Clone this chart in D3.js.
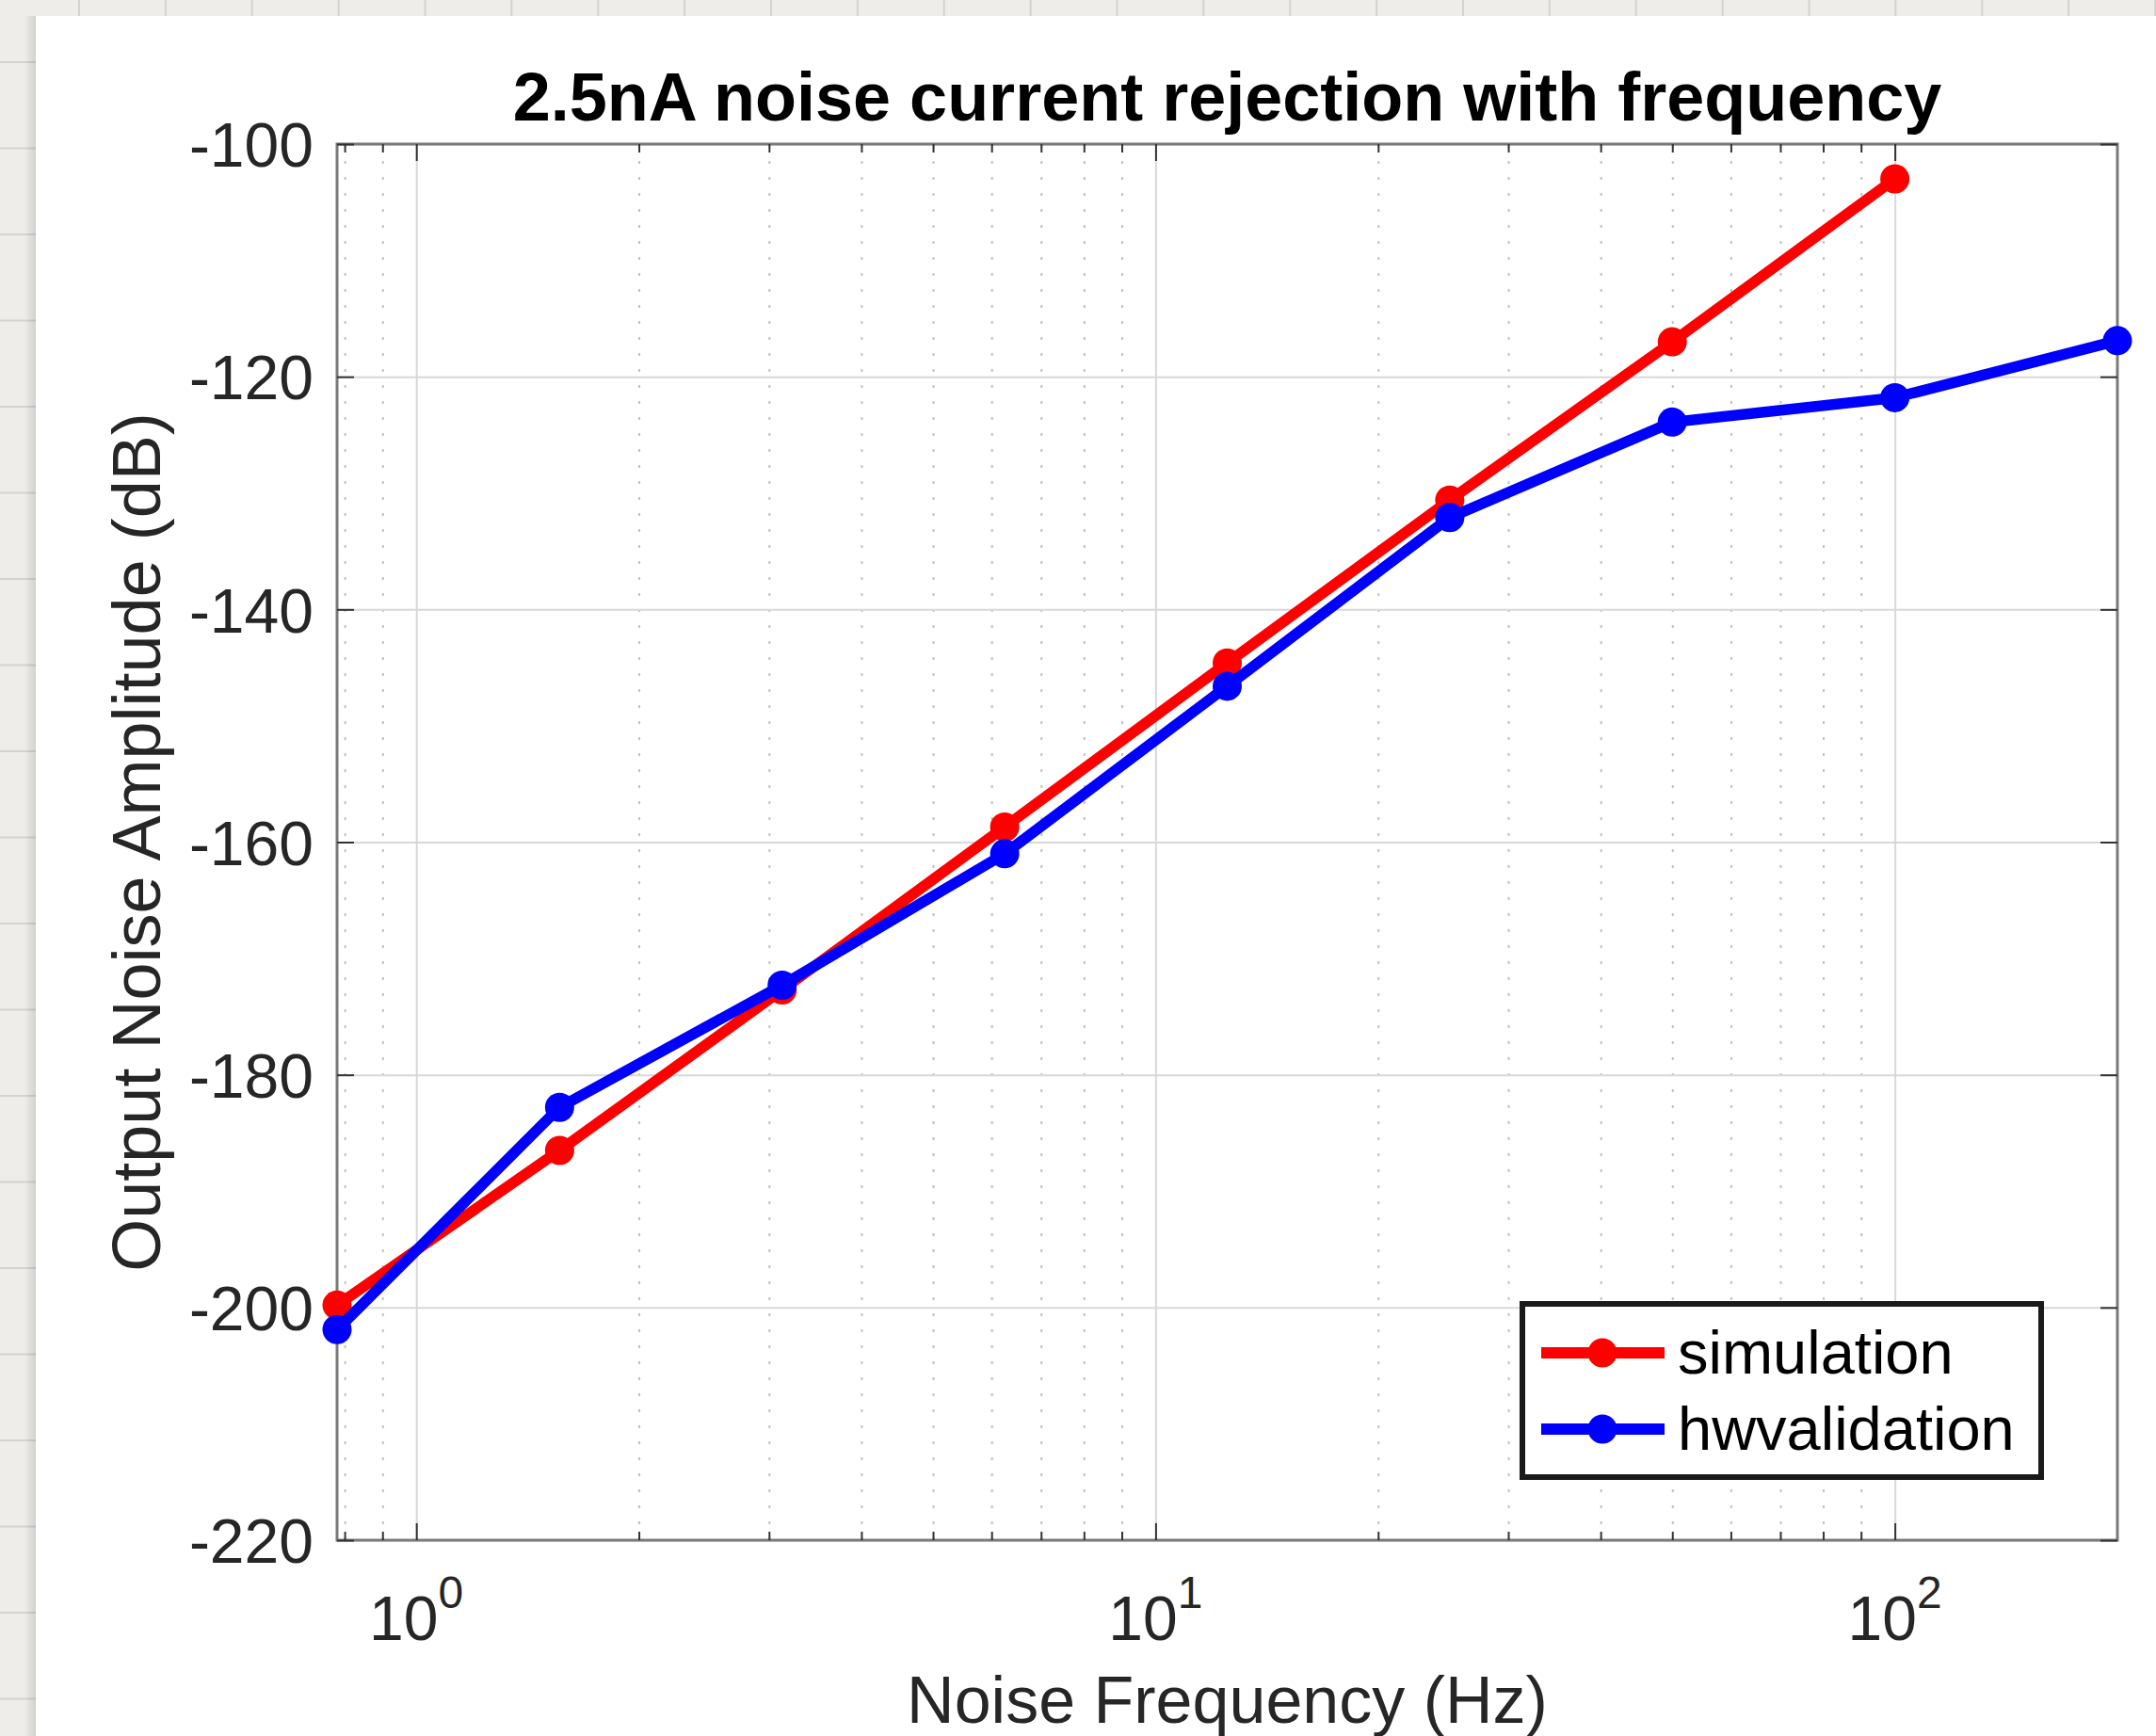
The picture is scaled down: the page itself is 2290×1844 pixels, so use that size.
<!DOCTYPE html>
<html>
<head>
<meta charset="utf-8">
<script src="https://cdn.jsdelivr.net/npm/d3@7"></script>
<style>
  body { margin: 0; background: #eeede9; }
  svg { display: block; font-family: "Liberation Sans", Arial, Helvetica, sans-serif; }
</style>
</head>
<body>
<svg id="chart" width="2290" height="1844"></svg>
<script>
// values
var freqHz = [0.78125, 1.5625, 3.125, 6.25, 12.5, 25, 50, 100, 200];
var simulationDb = [-199.8, -186.5, -172.7, -158.7, -144.6, -130.6, -117.0, -103.0];
var hwvalidationDb = [-201.9, -182.8, -172.3, -161.0, -146.6, -132.1, -123.9, -121.8, -116.9];
var seriesNames = ['simulation', 'hwvalidation'];
var seriesColors = ['#ff0000', '#0000ff'];
var xMajorTicks = [1, 10, 100];
var xTickExponents = ['0', '1', '2'];
var yTicks = [-220, -200, -180, -160, -140, -120, -100];

var W = 2290, H = 1844;
var margin = { top: 153, left: 358, right: 41, bottom: 208 };
var width = W - margin.left - margin.right,
    height = H - margin.top - margin.bottom;

var svg = d3.select('#chart');

// 紙張背景 (paper with grid)
var paper = svg.append('g').attr('class', 'paper');
paper.selectAll('line.px')
    .data(d3.range(-1, 26).map(k => 84 + 91.875 * k))
    .enter().append('line')
    .attr('x1', d => d).attr('x2', d => d).attr('y1', 0).attr('y2', H)
    .attr('stroke', '#d3d3d0').attr('stroke-width', 2);
paper.selectAll('line.py')
    .data(d3.range(-1, 21).map(k => 66 + 91.5 * k))
    .enter().append('line')
    .attr('x1', 0).attr('x2', W).attr('y1', d => d).attr('y2', d => d)
    .attr('stroke', '#d3d3d0').attr('stroke-width', 2);

var defs = svg.append('defs');
var sh = defs.append('linearGradient').attr('id', 'shadowL').attr('x1', 0).attr('x2', 1).attr('y1', 0).attr('y2', 0);
sh.append('stop').attr('offset', '0%').attr('stop-color', '#000').attr('stop-opacity', 0);
sh.append('stop').attr('offset', '100%').attr('stop-color', '#000').attr('stop-opacity', 0.12);
svg.append('rect').attr('x', 26).attr('y', 17).attr('width', 12).attr('height', H)
    .attr('fill', 'url(#shadowL)');

// 白色面板
svg.append('rect').attr('x', 38).attr('y', 17).attr('width', W - 38).attr('height', H - 17)
    .attr('fill', '#ffffff');

var g = svg.append('g').attr('transform', `translate(${margin.left},${margin.top})`);

var x = d3.scaleLog().domain([freqHz[0], freqHz[freqHz.length - 1]]).range([0, width]);
var y = d3.scaleLinear().domain([yTicks[0], yTicks[yTicks.length - 1]]).range([height, 0]);

var minorTicks = x.ticks().filter(v => xMajorTicks.indexOf(v) < 0 && v < x.domain()[1]);

function clean(sel) { sel.select('.domain').remove(); return sel; }

// 格線
clean(g.append('g').attr('class', 'grid-minor')
    .attr('transform', `translate(0,${height})`)
    .call(d3.axisBottom(x).tickValues(minorTicks).tickSize(-height).tickFormat('')))
    .selectAll('line').attr('stroke', '#c2c2c2').attr('stroke-width', 2).attr('stroke-dasharray', '3 14');

clean(g.append('g').attr('class', 'grid-major-x')
    .attr('transform', `translate(0,${height})`)
    .call(d3.axisBottom(x).tickValues(xMajorTicks).tickSize(-height).tickFormat('')))
    .selectAll('line').attr('stroke', '#d8d8d8').attr('stroke-width', 2);

clean(g.append('g').attr('class', 'grid-major-y')
    .call(d3.axisLeft(y).tickValues(yTicks).tickSize(-width).tickFormat('')))
    .selectAll('line').attr('stroke', '#d8d8d8').attr('stroke-width', 2);

// 外框
g.append('rect').attr('width', width).attr('height', height)
    .attr('fill', 'none').attr('stroke', '#7a7a7a').attr('stroke-width', 3);

// 刻度
function ticks(axis, tr) {
    var a = clean(g.append('g').attr('transform', tr).call(axis));
    a.selectAll('line').attr('stroke', '#333').attr('stroke-width', 2);
    return a;
}
ticks(d3.axisBottom(x).tickValues(xMajorTicks).tickSize(-18).tickFormat(''), `translate(0,${height})`);
ticks(d3.axisBottom(x).tickValues(minorTicks).tickSize(-9).tickFormat(''), `translate(0,${height})`);
ticks(d3.axisTop(x).tickValues(xMajorTicks).tickSize(-18).tickFormat(''), 'translate(0,0)');
ticks(d3.axisTop(x).tickValues(minorTicks).tickSize(-9).tickFormat(''), 'translate(0,0)');
ticks(d3.axisRight(y).tickValues(yTicks).tickSize(-18).tickFormat(''), `translate(${width},0)`);

var yAx = ticks(d3.axisLeft(y).tickValues(yTicks).tickSize(-18).tickPadding(25).tickFormat(d => String(d)), 'translate(0,0)');
yAx.selectAll('text')
    .attr('font-size', 66).attr('dy', '0.36em').attr('fill', '#262626')
    .attr('font-family', '"Liberation Sans", Arial, sans-serif');

// X軸 10^n 標籤
var xl = g.append('g').selectAll('text')
    .data(xMajorTicks).enter().append('text')
    .attr('x', d => x(d)).attr('y', height + 106)
    .attr('text-anchor', 'middle').attr('fill', '#262626');
xl.append('tspan').attr('font-size', 66).text('10');
xl.append('tspan').attr('font-size', 48).attr('dy', -34).text((d, i) => xTickExponents[i]);

// 資料線
var series = [
    { name: seriesNames[0], color: seriesColors[0], pts: simulationDb.map((v, i) => ({ f: freqHz[i], v: v })) },
    { name: seriesNames[1], color: seriesColors[1], pts: hwvalidationDb.map((v, i) => ({ f: freqHz[i], v: v })) }
];
var line = d3.line().x(d => x(d.f)).y(d => y(d.v));

var sg = g.selectAll('g.series').data(series).enter().append('g').attr('class', 'series');
sg.append('path')
    .attr('d', d => line(d.pts))
    .attr('fill', 'none').attr('stroke', d => d.color)
    .attr('stroke-width', 11.5).attr('stroke-linejoin', 'round');
sg.each(function (s) {
    d3.select(this).selectAll('circle').data(s.pts).enter().append('circle')
        .attr('cx', d => x(d.f)).attr('cy', d => y(d.v)).attr('r', 15.5)
        .attr('fill', s.color);
});

// 標題與軸標籤
svg.append('text')
    .attr('x', margin.left + width / 2).attr('y', 128)
    .attr('text-anchor', 'middle').attr('font-size', 72).attr('font-weight', 'bold')
    .attr('fill', '#000')
    .text('2.5nA noise current rejection with frequency');

svg.append('text')
    .attr('x', margin.left + width / 2).attr('y', 1830)
    .attr('text-anchor', 'middle').attr('font-size', 70).attr('fill', '#262626')
    .text('Noise Frequency (Hz)');

svg.append('text')
    .attr('transform', `translate(170,${margin.top + height / 2}) rotate(-90)`)
    .attr('text-anchor', 'middle').attr('font-size', 72).attr('fill', '#262626')
    .text('Output Noise Amplitude (dB)');

// 圖例
var lg = svg.append('g').attr('transform', 'translate(1617,1385)');
lg.append('rect').attr('width', 551).attr('height', 184)
    .attr('fill', '#fff').attr('stroke', '#1a1a1a').attr('stroke-width', 6);
var li = lg.selectAll('g.item').data(series).enter().append('g')
    .attr('transform', (d, i) => `translate(0,${52 + i * 81})`);
li.append('line').attr('x1', 20).attr('x2', 151)
    .attr('stroke', d => d.color).attr('stroke-width', 12);
li.append('circle').attr('cx', 85).attr('r', 15.5).attr('fill', d => d.color);
li.append('text').attr('x', 165).attr('y', 22)
    .attr('font-size', 65).attr('fill', '#000').text(d => d.name);
</script>
</body>
</html>
